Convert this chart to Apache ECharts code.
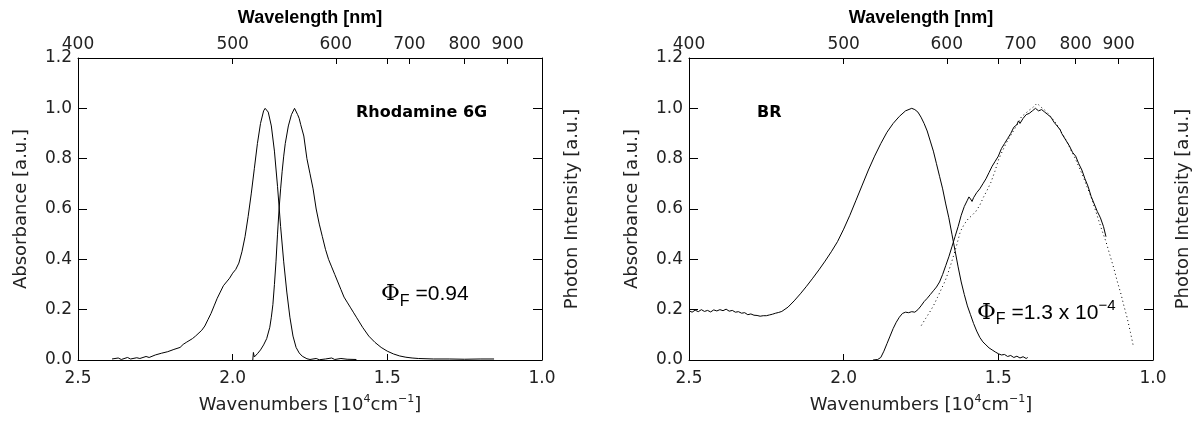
<!DOCTYPE html>
<html>
<head>
<meta charset="utf-8">
<script src="https://cdn.jsdelivr.net/npm/echarts@6/dist/echarts.min.js"></script>
<style>
  html, body { margin: 0; padding: 0; background: #fff; }
  #chart { width: 1202px; height: 421px; }
</style>
</head>
<body>
<div id="chart"></div>
<script>
// ---- data (x: wavenumber in 10^4 cm^-1, y: normalized a.u.) ----
const wavelengthTicks = [400, 500, 600, 700, 800, 900];
const wavenumberRange = [1.0, 2.5];
const yRange = [0, 1.2];

const r6gAbsorbance = [
  [2.39,0.004],[2.37,0.008],[2.36,0.002],[2.34,0.01],[2.33,0.004],[2.31,0.009],[2.30,0.006],
  [2.28,0.014],[2.27,0.01],[2.25,0.02],[2.23,0.027],[2.21,0.033],[2.19,0.042],[2.17,0.05],
  [2.16,0.062],[2.15,0.07],[2.13,0.085],[2.12,0.095],[2.10,0.118],[2.09,0.135],[2.08,0.16],
  [2.07,0.185],[2.06,0.215],[2.05,0.245],[2.04,0.27],[2.03,0.295],[2.02,0.31],[2.01,0.325],
  [2.00,0.345],[1.99,0.36],[1.98,0.385],[1.97,0.43],[1.96,0.49],[1.95,0.57],[1.94,0.66],
  [1.93,0.76],[1.92,0.86],[1.91,0.94],[1.90,0.99],[1.895,1.0],[1.885,0.985],[1.875,0.93],
  [1.865,0.83],[1.855,0.69],[1.845,0.53],[1.835,0.39],[1.825,0.27],[1.815,0.17],[1.805,0.095],
  [1.795,0.05],[1.785,0.028],[1.775,0.015],[1.76,0.005],[1.75,0.002],[1.73,0.006],[1.72,0.001],
  [1.70,0.004],[1.68,0.008],[1.67,0.002],[1.65,0.006],[1.63,0.003],[1.60,0.002]
];
const r6gEmission = [
  [1.935,0.0],[1.933,0.03],[1.93,0.012],[1.92,0.025],[1.91,0.04],[1.90,0.06],[1.89,0.085],
  [1.88,0.13],[1.875,0.17],[1.87,0.22],[1.865,0.30],[1.86,0.39],[1.855,0.50],[1.85,0.60],
  [1.845,0.68],[1.84,0.75],[1.835,0.81],[1.83,0.86],[1.82,0.93],[1.81,0.975],[1.80,1.0],
  [1.795,0.995],[1.79,0.975],[1.785,0.96],[1.78,0.935],[1.77,0.89],[1.76,0.80],[1.75,0.74],
  [1.74,0.68],[1.73,0.60],[1.72,0.54],[1.71,0.49],[1.70,0.44],[1.69,0.40],[1.68,0.37],
  [1.67,0.34],[1.66,0.31],[1.65,0.28],[1.64,0.25],[1.63,0.23],[1.62,0.21],[1.61,0.19],
  [1.60,0.17],[1.58,0.13],[1.56,0.095],[1.54,0.07],[1.52,0.05],[1.50,0.035],[1.48,0.024],
  [1.46,0.016],[1.44,0.011],[1.42,0.008],[1.40,0.006],[1.35,0.004],[1.30,0.004],[1.25,0.003],
  [1.20,0.004],[1.155,0.004]
];

const brAbsorbance = [
  [2.50,0.196],[2.49,0.19],[2.48,0.198],[2.47,0.192],[2.46,0.2],[2.45,0.193],[2.44,0.197],
  [2.43,0.191],[2.42,0.199],[2.41,0.195],[2.40,0.2],[2.39,0.196],[2.38,0.202],[2.37,0.194],
  [2.36,0.197],[2.35,0.19],[2.34,0.192],[2.33,0.186],[2.32,0.188],[2.31,0.18],[2.30,0.183],
  [2.29,0.178],[2.28,0.177],[2.27,0.174],[2.26,0.176],[2.25,0.176],[2.24,0.179],[2.23,0.182],
  [2.22,0.186],[2.21,0.189],[2.20,0.193],[2.18,0.21],[2.16,0.235],[2.14,0.263],[2.12,0.293],
  [2.10,0.325],[2.08,0.358],[2.06,0.393],[2.04,0.43],[2.02,0.47],[2.00,0.52],[1.98,0.575],
  [1.96,0.635],[1.94,0.695],[1.92,0.755],[1.90,0.81],[1.88,0.86],[1.86,0.905],[1.84,0.94],
  [1.82,0.968],[1.80,0.99],[1.78,1.0],[1.77,0.995],[1.76,0.985],[1.75,0.965],[1.74,0.94],
  [1.73,0.91],[1.72,0.87],[1.71,0.83],[1.70,0.78],[1.69,0.73],[1.68,0.68],[1.67,0.62],
  [1.66,0.565],[1.65,0.5],[1.64,0.435],[1.63,0.37],[1.62,0.31],[1.61,0.26],[1.60,0.215],
  [1.59,0.18],[1.58,0.145],[1.57,0.115],[1.56,0.09],[1.55,0.072],[1.54,0.06],[1.53,0.048],
  [1.52,0.04],[1.51,0.032],[1.50,0.025],[1.49,0.02],[1.48,0.022],[1.47,0.014],[1.46,0.018],
  [1.45,0.01],[1.44,0.015],[1.43,0.008],[1.42,0.013],[1.41,0.006],[1.405,0.01]
];
const brEmission = [
  [1.905,0.0],[1.89,0.002],[1.88,0.01],[1.87,0.035],[1.86,0.065],[1.85,0.095],[1.84,0.125],
  [1.83,0.15],[1.82,0.17],[1.81,0.185],[1.80,0.19],[1.79,0.188],[1.78,0.192],[1.77,0.19],
  [1.76,0.2],[1.75,0.215],[1.74,0.232],[1.73,0.245],[1.72,0.26],[1.71,0.275],[1.70,0.29],
  [1.69,0.31],[1.68,0.34],[1.67,0.375],[1.66,0.41],[1.65,0.45],[1.64,0.49],[1.63,0.53],
  [1.62,0.575],[1.61,0.61],[1.60,0.635],[1.595,0.648],[1.59,0.64],[1.585,0.63],[1.58,0.645],
  [1.57,0.665],[1.56,0.68],[1.55,0.7],[1.54,0.72],[1.53,0.745],[1.52,0.77],[1.51,0.79],
  [1.50,0.81],[1.49,0.84],[1.48,0.86],[1.47,0.88],[1.46,0.9],[1.45,0.925],[1.44,0.935],
  [1.435,0.95],[1.43,0.94],[1.42,0.96],[1.41,0.975],[1.40,0.98],[1.39,0.99],[1.38,1.0],
  [1.37,0.99],[1.36,0.995],[1.35,0.985],[1.34,0.975],[1.33,0.965],[1.32,0.945],[1.31,0.93],
  [1.30,0.915],[1.295,0.9],[1.29,0.905],[1.28,0.87],[1.27,0.85],[1.26,0.825],[1.25,0.81],
  [1.24,0.78],[1.23,0.755],[1.22,0.72],[1.21,0.69],[1.20,0.65],[1.19,0.62],[1.18,0.59],
  [1.17,0.565],[1.16,0.53],[1.152,0.49]
];
const brEmissionFit = [
  [1.749,0.137],[1.735,0.165],[1.722,0.19],[1.71,0.215],[1.697,0.248],[1.685,0.28],[1.672,0.314],
  [1.66,0.355],[1.647,0.405],[1.635,0.455],[1.623,0.51],[1.61,0.54],[1.598,0.56],[1.585,0.575],
  [1.573,0.59],[1.56,0.615],[1.548,0.647],[1.536,0.675],[1.524,0.706],[1.511,0.75],[1.499,0.797],
  [1.487,0.83],[1.474,0.863],[1.461,0.89],[1.449,0.915],[1.437,0.94],[1.425,0.967],[1.412,0.98],
  [1.40,0.993],[1.387,1.005],[1.375,1.02],[1.362,1.005],[1.35,0.993],[1.338,0.978],[1.326,0.96],
  [1.313,0.94],[1.301,0.915],[1.289,0.89],[1.276,0.863],[1.264,0.83],[1.251,0.80],[1.239,0.765],
  [1.226,0.73],[1.214,0.69],[1.202,0.654],[1.19,0.61],[1.177,0.56],[1.165,0.515],[1.152,0.47],
  [1.14,0.42],[1.127,0.366],[1.115,0.31],[1.103,0.26],[1.094,0.215],[1.084,0.17],[1.073,0.11],
  [1.063,0.052]
];

// ---- chart ----
const SANS = 'DejaVu Sans';
const TXT = '#222';
const chart = echarts.init(document.getElementById('chart'), null, { renderer: 'canvas' });

const grids = [
  { left: 78, top: 58, width: 464, height: 306 },
  { left: 689, top: 58, width: 464, height: 306 }
];

const axisLine = { show: true, onZero: false, lineStyle: { color: '#000', width: 1 } };
const topLabelValues = wavelengthTicks.map(nm => 1000 / nm);

function xAxes(gi) {
  return [
    {
      gridIndex: gi, type: 'value', position: 'bottom',
      min: wavenumberRange[0], max: wavenumberRange[1], interval: 0.5, inverse: true,
      axisLine: axisLine,
      axisTick: { show: true, inside: true, length: 6, lineStyle: { color: '#000' } },
      axisLabel: { margin: 10, fontFamily: SANS, fontSize: 17, color: TXT,
                   formatter: v => v.toFixed(1) },
      splitLine: { show: false },
      name: 'Wavenumbers [10{sup|4}cm{sup|−1}]',
      nameLocation: 'middle', nameGap: 34,
      nameTextStyle: { fontFamily: SANS, fontSize: 18, color: TXT, lineHeight: 22,
        rich: { sup: { fontFamily: SANS, fontSize: 11, color: TXT, lineHeight: 10, verticalAlign: 'top' } } }
    },
    {
      gridIndex: gi, type: 'value', position: 'top',
      min: wavenumberRange[0], max: wavenumberRange[1], inverse: true,
      axisLine: axisLine,
      axisTick: { show: true, inside: true, length: 6, lineStyle: { color: '#000' },
                  customValues: topLabelValues.concat([1.5]) },
      axisLabel: { margin: 5, fontFamily: SANS, fontSize: 17, color: TXT,
                   customValues: topLabelValues,
                   formatter: v => String(Math.round(1000 / v)) },
      splitLine: { show: false },
      name: 'Wavelength [nm]',
      nameLocation: 'middle', nameGap: 31,
      nameTextStyle: { fontFamily: 'Liberation Sans', fontWeight: 'bold', fontSize: 18, color: '#000' }
    }
  ];
}
function yAxes(gi) {
  return [
    {
      gridIndex: gi, type: 'value', position: 'left',
      min: yRange[0], max: yRange[1], interval: 0.2,
      axisLine: axisLine,
      axisTick: { show: true, inside: true, length: 9, lineStyle: { color: '#000' } },
      axisLabel: { margin: 6, fontFamily: SANS, fontSize: 17, color: TXT,
                   formatter: v => v.toFixed(1) },
      splitLine: { show: false },
      name: 'Absorbance [a.u.]', nameLocation: 'middle', nameRotate: 90, nameGap: 48,
      nameTextStyle: { fontFamily: SANS, fontSize: 18, color: TXT }
    },
    {
      gridIndex: gi, type: 'value', position: 'right',
      min: yRange[0], max: yRange[1], interval: 0.2,
      axisLine: axisLine,
      axisTick: { show: true, inside: true, length: 9, lineStyle: { color: '#000' } },
      axisLabel: { show: false },
      splitLine: { show: false },
      name: 'Photon Intensity [a.u.]', nameLocation: 'middle', nameRotate: 90, nameGap: 21,
      nameTextStyle: { fontFamily: SANS, fontSize: 18, color: TXT }
    }
  ];
}

function line(data, xi, yi, dotted) {
  return {
    type: 'line', data: data, xAxisIndex: xi, yAxisIndex: yi,
    showSymbol: false, symbol: 'none', animation: false, silent: true,
    lineStyle: { color: '#000', width: 1, type: dotted ? [1, 3] : 'solid' }
  };
}

const phiRich = {
  phi: { fontFamily: 'DejaVu Serif', fontSize: 23, lineHeight: 30, fill: '#000' },
  sub: { fontFamily: 'Liberation Sans', fontSize: 16, lineHeight: 16, verticalAlign: 'bottom', fill: '#000' },
  t: { fontFamily: 'Liberation Sans', fontSize: 21, lineHeight: 30, fill: '#000' },
  sup: { fontFamily: 'Liberation Sans', fontSize: 15, lineHeight: 14, verticalAlign: 'top', fill: '#000' }
};

const option = {
  backgroundColor: '#fff',
  animation: false,
  grid: grids,
  xAxis: xAxes(0).concat(xAxes(1)),
  yAxis: yAxes(0).concat(yAxes(1)),
  series: [
    line(r6gAbsorbance, 0, 0),
    line(r6gEmission, 0, 1),
    line(brAbsorbance, 2, 2),
    line(brEmission, 2, 3),
    line(brEmissionFit, 2, 3, true)
  ],
  graphic: [
    { type: 'text', left: 356, top: 105,
      style: { text: 'Rhodamine 6G', fontFamily: SANS, fontWeight: 'bold', fontSize: 16, fill: '#000' } },
    { type: 'text', left: 757, top: 105,
      style: { text: 'BR', fontFamily: SANS, fontWeight: 'bold', fontSize: 16, fill: '#000' } },
    { type: 'text', left: 381, top: 283,
      style: { text: '{phi|Φ}{sub|F}{t| =0.94}', rich: phiRich } },
    { type: 'text', left: 977, top: 298,
      style: { text: '{phi|Φ}{sub|F}{t| =1.3 x 10}{sup|−4}', rich: phiRich } }
  ]
};
chart.setOption(option);
</script>
</body>
</html>
